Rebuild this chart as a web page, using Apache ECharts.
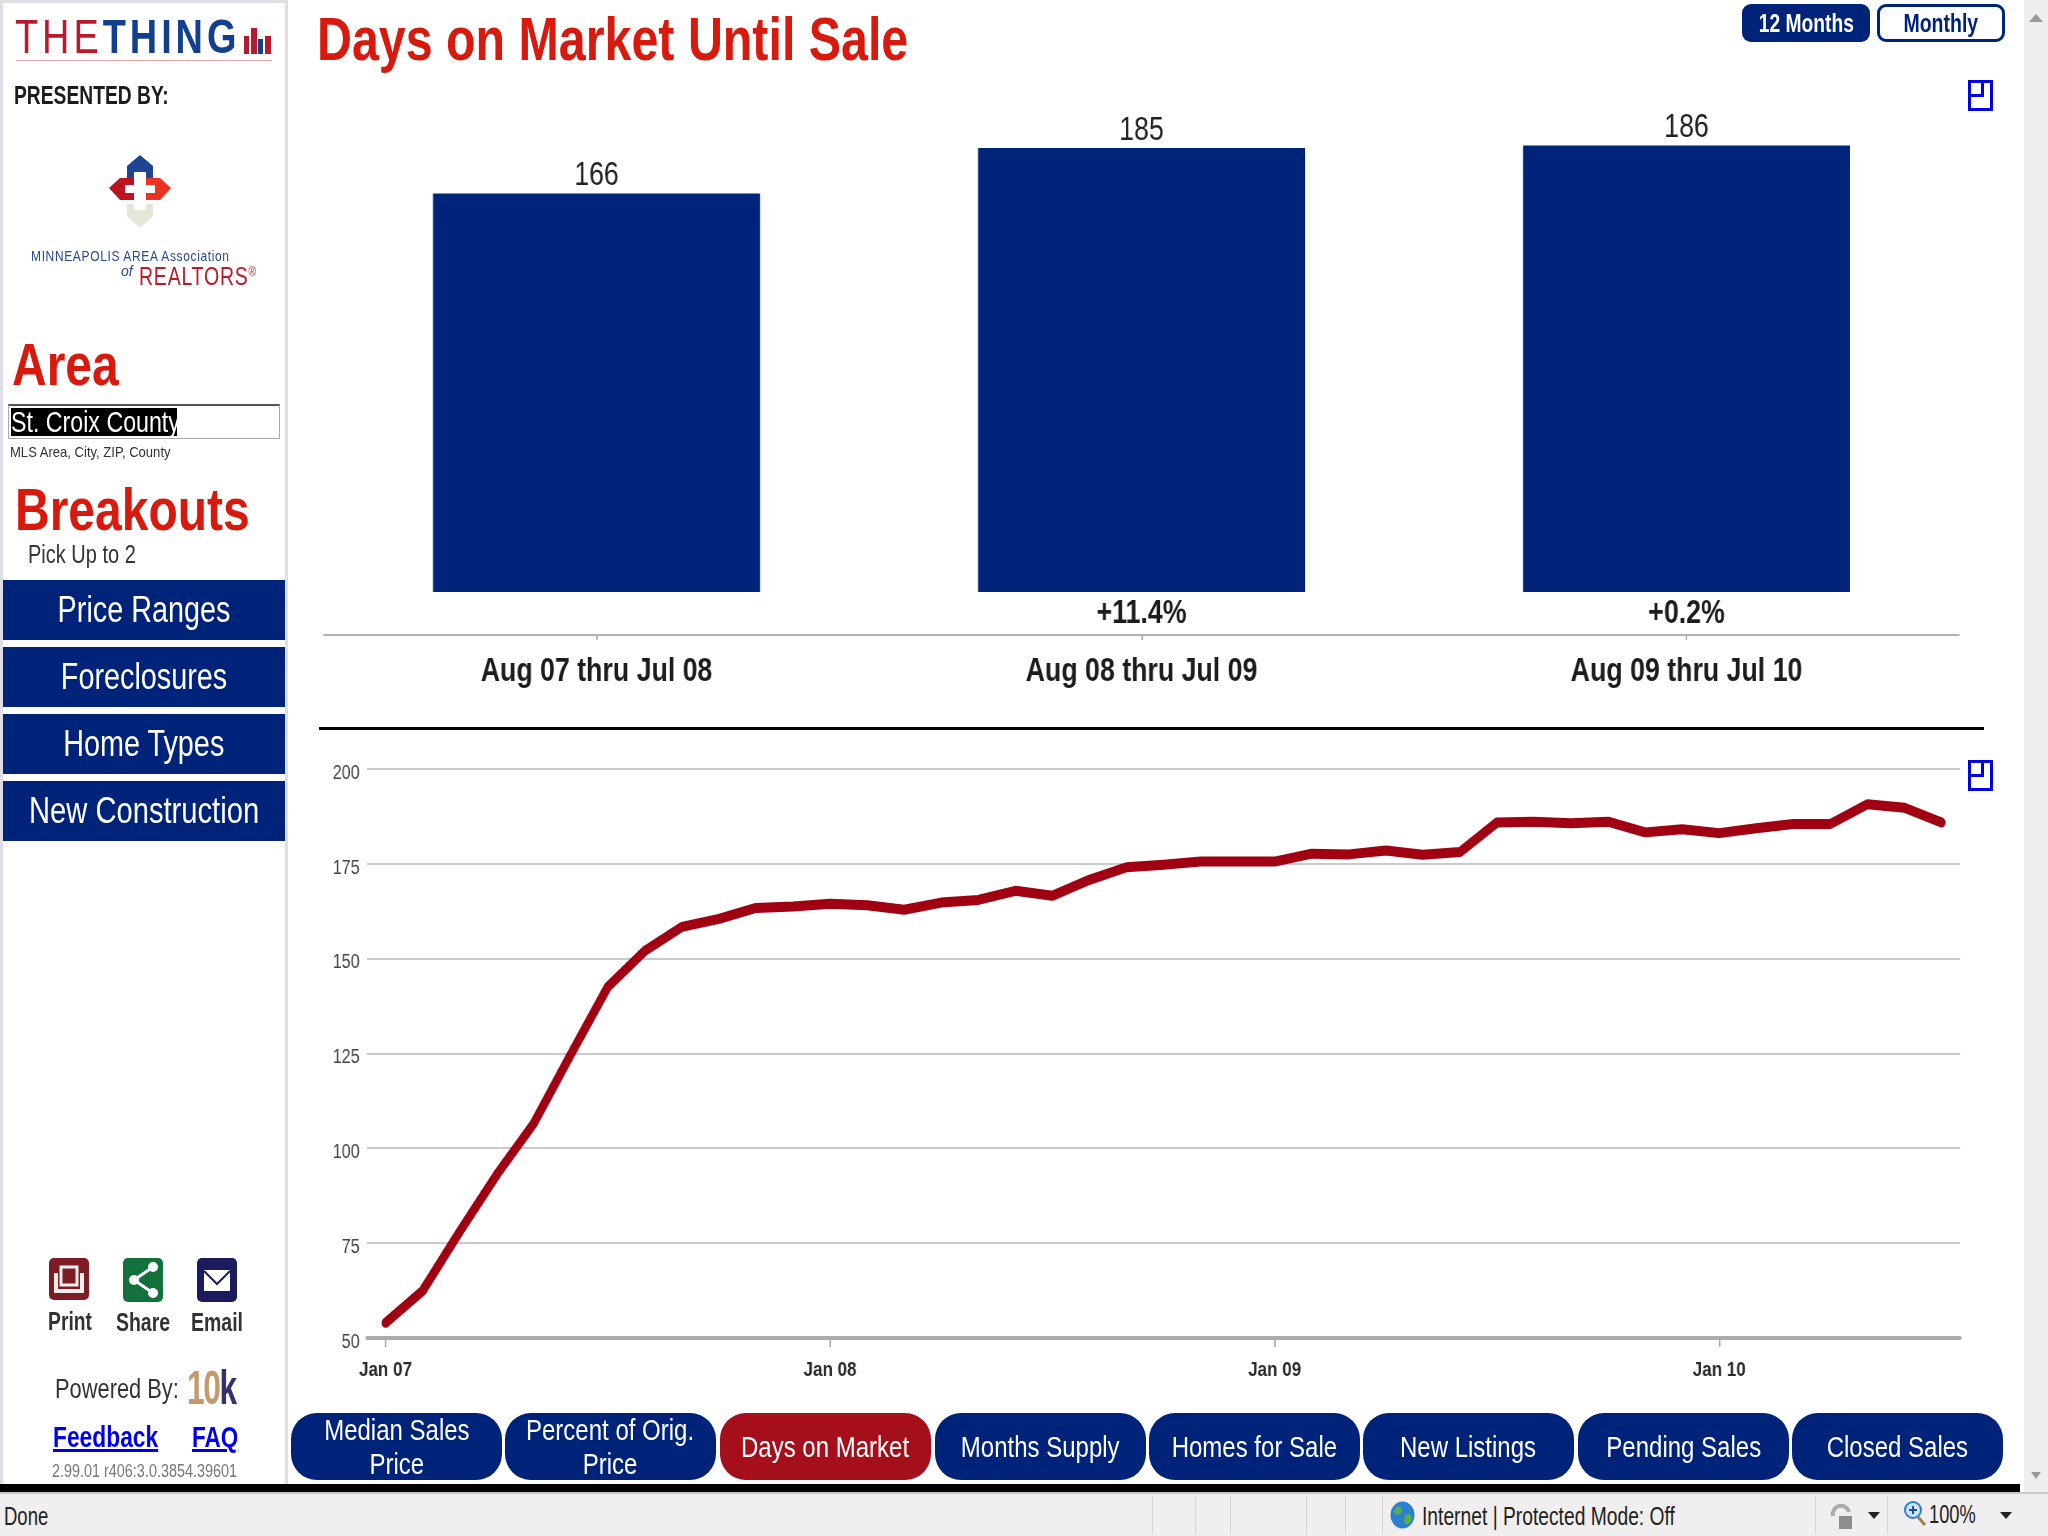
<!DOCTYPE html>
<html>
<head>
<meta charset="utf-8">
<title>Days on Market Until Sale</title>
<script src="https://cdn.jsdelivr.net/npm/echarts@6/dist/echarts.min.js"></script>
<style>
html,body{margin:0;padding:0;background:#fff;}
body{width:2048px;height:1536px;position:relative;overflow:hidden;font-family:"Liberation Sans",Arial,sans-serif;color:#222;}
#main{position:absolute;left:0;top:0;height:1536px;transform-origin:left top;}
.a{position:absolute;white-space:nowrap;}
.n{display:inline-block;white-space:nowrap;transform:scaleX(var(--s));transform-origin:left center;}
.c{transform-origin:center center;}
.side{position:absolute;left:3px;width:282px;height:60px;background:#00237a;color:#fff;font-size:36px;display:flex;align-items:center;justify-content:center;}
.tab{position:absolute;top:1413px;height:67px;width:211px;border-radius:26px;background:#00237a;color:#fff;font-size:30px;line-height:34px;text-align:center;display:flex;align-items:center;justify-content:center;}
.h{color:#d8190e;font-weight:bold;font-size:60px;}
.sep{position:absolute;top:1496px;height:38px;width:1px;background:#d4d2d2;}
.expand{position:absolute;width:19px;height:25px;border:3px solid #0000e6;}
.expand i{position:absolute;right:6px;top:0;width:10px;height:11px;border:solid #0000e6;border-width:0 3px 3px 3px;}
</style>
</head>
<body>
<div id="main"></div>

<!-- sidebar -->
<div class="a" style="left:0;top:0;width:3px;height:1484px;background:#dedee4"></div>
<div class="a" style="left:0;top:0;width:288px;height:3px;background:#dedee4"></div>
<div class="a" style="left:285px;top:0;width:3px;height:1484px;background:#dedee4"></div>
<div class="a n" style="--s:.79;left:15px;top:9px;font-size:48px;letter-spacing:5px;color:#b8192d;">THE<b style="color:#12408f">THING</b></div>
<div class="a" style="left:244px;top:36px;width:5px;height:18px;background:#b8192d"></div>
<div class="a" style="left:251px;top:28px;width:6px;height:26px;background:#b8192d"></div>
<div class="a" style="left:258px;top:39px;width:5px;height:15px;background:#12408f"></div>
<div class="a" style="left:265px;top:36px;width:6px;height:18px;background:#b8192d"></div>
<div class="a" style="left:16px;top:60px;width:256px;height:1px;background:#e9a6ad"></div>
<div class="a n" style="--s:.77;left:14px;top:81px;font-size:25px;font-weight:bold;color:#1c1c1c;">PRESENTED BY:</div>
<svg class="a" style="left:105px;top:150px" width="70" height="84" viewBox="0 0 70 84">
  <path d="M22 31V16L35 5L48 16V31H41V22H29V31Z" fill="#1d4594"/>
  <path d="M4 38L15 28H29V35H20V43H29V50H15Z" fill="#bd1421"/>
  <path d="M66 38L55 28H41V35H50V43H41V50H55Z" fill="#ec3323"/>
  <path d="M22 54V66L35 78L48 66V54H41V60H29V54Z" fill="#e6e6da"/>
</svg>
<div class="a n" style="--s:.8;left:31px;top:247px;font-size:15px;letter-spacing:.8px;color:#29488f;">MINNEAPOLIS AREA Association</div>
<div class="a" style="left:121px;top:263px;font-size:14px;font-style:italic;color:#29488f;">of</div>
<div class="a n" style="--s:.78;left:139px;top:262px;font-size:25px;letter-spacing:1px;color:#bb1b2b;">REALTORS<span style="font-size:13px;vertical-align:9px">®</span></div>
<div class="a h n" style="--s:.8;left:12px;top:330px;">Area</div>
<div class="a" style="left:8px;top:404px;width:270px;height:32px;border:1px solid #aaa;border-top:2px solid #555;"></div>
<div class="a" style="left:11px;top:408px;height:28px;width:166px;background:#000;color:#fff;font-size:29px;line-height:28px;"><span class="n" style="--s:.8">St. Croix County</span></div>
<div class="a n" style="--s:.87;left:10px;top:443px;font-size:15px;color:#333;">MLS Area, City, ZIP, County</div>
<div class="a h n" style="--s:.8;left:15px;top:475px;">Breakouts</div>
<div class="a n" style="--s:.8;left:28px;top:540px;font-size:25px;color:#333;">Pick Up to 2</div>
<div class="side" style="top:580px"><span class="n c" style="--s:.8">Price Ranges</span></div>
<div class="side" style="top:647px"><span class="n c" style="--s:.8">Foreclosures</span></div>
<div class="side" style="top:714px"><span class="n c" style="--s:.8">Home Types</span></div>
<div class="side" style="top:781px"><span class="n c" style="--s:.81">New Construction</span></div>

<svg class="a" style="left:49px;top:1258px" width="40" height="42"><rect width="40" height="42" rx="5" fill="#7d1c24"/><path d="M7 15V33H33V15" fill="none" stroke="#eee" stroke-width="4"/><rect x="12" y="9" width="16" height="18" fill="none" stroke="#eee" stroke-width="3"/></svg>
<svg class="a" style="left:123px;top:1258px" width="40" height="44"><rect width="40" height="44" rx="5" fill="#13713b"/><path d="M30 9L11 22L30 35" fill="none" stroke="#fff" stroke-width="3"/><circle cx="30" cy="9" r="5" fill="#fff"/><circle cx="11" cy="22" r="5" fill="#fff"/><circle cx="30" cy="35" r="5" fill="#fff"/></svg>
<svg class="a" style="left:197px;top:1258px" width="40" height="44"><rect width="40" height="44" rx="5" fill="#1b1b5e"/><rect x="7" y="12" width="26" height="21" fill="#fff"/><path d="M7 13L20 26L33 13" fill="none" stroke="#1b1b5e" stroke-width="2"/></svg>
<div class="a n c" style="--s:.74;left:30px;width:80px;text-align:center;top:1306px;font-size:26px;font-weight:bold;color:#333;">Print</div>
<div class="a n c" style="--s:.75;left:103px;width:80px;text-align:center;top:1307px;font-size:26px;font-weight:bold;color:#333;">Share</div>
<div class="a n c" style="--s:.75;left:177px;width:80px;text-align:center;top:1307px;font-size:26px;font-weight:bold;color:#333;">Email</div>
<div class="a n" style="--s:.78;left:55px;top:1373px;font-size:28px;color:#333;">Powered By:</div>
<div class="a n" style="--s:.66;left:187px;top:1360px;font-size:48px;font-weight:bold;letter-spacing:-2px;color:#c49a6c;">10<span style="color:#3a2f6e">k</span></div>
<div class="a n" style="--s:.76;left:53px;top:1420px;font-size:30px;font-weight:bold;color:#0000ee;text-decoration:underline;">Feedback</div>
<div class="a n" style="--s:.75;left:192px;top:1420px;font-size:30px;font-weight:bold;color:#0000ee;text-decoration:underline;">FAQ</div>
<div class="a n" style="--s:.8;left:52px;top:1461px;font-size:18px;color:#777;">2.99.01 r406:3.0.3854.39601</div>

<!-- header -->
<div class="a n" style="--s:.78;left:317px;top:3px;font-size:62px;font-weight:bold;color:#d8190e;">Days on Market Until Sale</div>
<div class="a" style="left:1742px;top:4px;width:128px;height:38px;border-radius:9px;background:#00237a;color:#fff;font-size:26px;font-weight:bold;line-height:38px;text-align:center;"><span class="n c" style="--s:.74">12 Months</span></div>
<div class="a" style="left:1877px;top:4px;width:122px;height:32px;border:3px solid #00237a;border-radius:9px;background:#fff;color:#00237a;font-size:26px;font-weight:bold;line-height:32px;text-align:center;"><span class="n c" style="--s:.75">Monthly</span></div>
<div class="expand" style="left:1968px;top:80px"><i></i></div>
<div class="expand" style="left:1968px;top:760px"><i></i></div>
<div class="a" style="left:319px;top:727px;width:1665px;height:3px;background:#000"></div>

<!-- tabs -->
<div class="tab" style="left:291px"><span class="n c" style="--s:.8">Median Sales<br>Price</span></div>
<div class="tab" style="left:505px"><span class="n c" style="--s:.8">Percent of Orig.<br>Price</span></div>
<div class="tab" style="left:720px;background:#a50f1c"><span class="n c" style="--s:.8">Days on Market</span></div>
<div class="tab" style="left:935px"><span class="n c" style="--s:.8">Months Supply</span></div>
<div class="tab" style="left:1149px"><span class="n c" style="--s:.8">Homes for Sale</span></div>
<div class="tab" style="left:1363px"><span class="n c" style="--s:.8">New Listings</span></div>
<div class="tab" style="left:1578px"><span class="n c" style="--s:.8">Pending Sales</span></div>
<div class="tab" style="left:1792px"><span class="n c" style="--s:.8">Closed Sales</span></div>

<!-- browser chrome -->
<div class="a" style="left:2024px;top:0;width:24px;height:1494px;background:#eeeeee"></div>
<div class="a" style="left:2029px;top:14px;width:0;height:0;border:7px solid transparent;border-bottom:8px solid #9a9a9a;border-top:0"></div>
<div class="a" style="left:2031px;top:1472px;width:0;height:0;border:5px solid transparent;border-top:7px solid #9a9a9a;border-bottom:0"></div>
<div class="a" style="left:0;top:1484px;width:2020px;height:8px;background:#000"></div>
<div class="a" style="left:0;top:1492px;width:2048px;height:44px;background:#f0eeee;border-top:2px solid #c8c8c8;box-sizing:border-box"></div>
<div class="a n" style="--s:.74;left:4px;top:1502px;font-size:25px;color:#222;">Done</div>
<div class="sep" style="left:1152px"></div><div class="sep" style="left:1195px"></div><div class="sep" style="left:1230px"></div><div class="sep" style="left:1306px"></div><div class="sep" style="left:1345px"></div><div class="sep" style="left:1382px"></div><div class="sep" style="left:1815px"></div><div class="sep" style="left:1887px"></div>
<svg class="a" style="left:1390px;top:1501px" width="25" height="28"><ellipse cx="12.5" cy="14" rx="12" ry="13.5" fill="#2f7fd0"/><path d="M6 6C12 4 13 9 11 12C9 15 5 14 4 11ZM15 14C20 12 22 15 21 20C19 25 15 24 14 20Z" fill="#56b04a"/></svg>
<div class="a n" style="--s:.77;left:1422px;top:1502px;font-size:25px;color:#222;">Internet | Protected Mode: Off</div>
<svg class="a" style="left:1828px;top:1502px" width="28" height="28"><path d="M5 14A8 8 0 0 1 21 10" fill="none" stroke="#aaa" stroke-width="4"/><rect x="11" y="14" width="13" height="13" fill="#8d8d8d"/></svg>
<div class="a" style="left:1868px;top:1512px;width:0;height:0;border:6px solid transparent;border-top:7px solid #222;border-bottom:0"></div>
<svg class="a" style="left:1904px;top:1500px" width="24" height="28"><circle cx="9" cy="10" r="8" fill="#cfe3f6" stroke="#2f7fd0" stroke-width="2"/><path d="M5 10H13M9 6V14" stroke="#1b4fa0" stroke-width="2"/><path d="M14 17L21 25" stroke="#a37f4c" stroke-width="3"/></svg>
<div class="a n" style="--s:.73;left:1929px;top:1500px;font-size:25px;color:#222;">100%</div>
<div class="a" style="left:2000px;top:1512px;width:0;height:0;border:6px solid transparent;border-top:7px solid #222;border-bottom:0"></div>

<script>
var periods = ['Aug 07 thru Jul 08', 'Aug 08 thru Jul 09', 'Aug 09 thru Jul 10'];
var days12 = [166, 185, 186];
var change = ['', '+11.4%', '+0.2%'];

var months = [
    'Jan 07','Feb 07','Mar 07','Apr 07','May 07','Jun 07','Jul 07','Aug 07','Sep 07','Oct 07','Nov 07','Dec 07',
    'Jan 08','Feb 08','Mar 08','Apr 08','May 08','Jun 08','Jul 08','Aug 08','Sep 08','Oct 08','Nov 08','Dec 08',
    'Jan 09','Feb 09','Mar 09','Apr 09','May 09','Jun 09','Jul 09','Aug 09','Sep 09','Oct 09','Nov 09','Dec 09',
    'Jan 10','Feb 10','Mar 10','Apr 10','May 10','Jun 10','Jul 10'
];
var daysRolling = [
    54, 62.4, 78, 93, 106.5, 124.7, 142.5, 152, 158.3, 160.4, 163.3, 163.7,
    164.4, 164, 162.8, 164.7, 165.4, 167.8, 166.5, 170.7, 174, 174.7, 175.5, 175.5,
    175.5, 177.6, 177.4, 178.4, 177.3, 178, 185.8, 186, 185.6, 186, 183.2, 184,
    183, 184.3, 185.4, 185.4, 190.6, 189.7, 185.8
];

// the source is a stretched screenshot, so the text is narrow: draw the chart wider and squeeze it back
var sx = 0.81;
var main = document.getElementById('main');
main.style.width = (2048 / sx) + 'px';
main.style.transform = 'scaleX(' + sx + ')';

var myChart = echarts.init(main);
myChart.setOption({
    animation: false,
    grid: [
        {left: 324 / sx, width: 1635 / sx, top: 112, height: 480},
        {left: 367 / sx, width: 1593 / sx, top: 768.6, height: 569.4}
    ],
    xAxis: [
        {
            type: 'category',
            gridIndex: 0,
            data: periods,
            offset: 43,
            axisLine: {onZero: false, lineStyle: {color: '#b0b0b0', width: 2}},
            axisTick: {show: true, alignWithLabel: true, length: 5, lineStyle: {color: '#b0b0b0', width: 2}},
            axisLabel: {fontFamily: 'Liberation Sans', fontSize: 33, fontWeight: 'bold', color: '#1c1c1c', margin: 20}
        },
        {
            type: 'category',
            gridIndex: 1,
            data: months,
            axisLine: {lineStyle: {color: '#ababab', width: 4}},
            axisTick: {show: true, alignWithLabel: true, interval: 11, length: 9, lineStyle: {color: '#ababab', width: 2}},
            axisLabel: {interval: 11, fontFamily: 'Liberation Sans', fontSize: 21, fontWeight: 'bold', color: '#2a2a2a', margin: 22}
        }
    ],
    yAxis: [
        {type: 'value', gridIndex: 0, min: 0, max: 200, show: false},
        {
            type: 'value',
            gridIndex: 1,
            min: 50,
            max: 200,
            interval: 25,
            axisLine: {show: false},
            axisTick: {show: false},
            axisLabel: {fontFamily: 'Liberation Sans', fontSize: 20, color: '#444', margin: 9, verticalAlign: 'top', lineHeight: 9},
            splitLine: {lineStyle: {color: '#c9c9cd', width: 2}}
        }
    ],
    series: [
        {
            type: 'bar',
            xAxisIndex: 0,
            yAxisIndex: 0,
            data: days12,
            barWidth: 327 / sx,
            barGap: '-100%',
            itemStyle: {color: '#00237a'},
            label: {show: true, position: 'top', distance: 1, fontFamily: 'Liberation Sans', fontSize: 33, color: '#222'}
        },
        {
            type: 'bar',
            xAxisIndex: 0,
            yAxisIndex: 0,
            data: days12,
            barWidth: 327 / sx,
            barGap: '-100%',
            itemStyle: {color: 'transparent'},
            label: {
                show: true,
                position: 'bottom',
                distance: 5,
                fontFamily: 'Liberation Sans',
                fontSize: 33,
                fontWeight: 'bold',
                color: '#1c1c1c',
                formatter: function (p) { return change[p.dataIndex]; }
            }
        },
        {
            type: 'line',
            xAxisIndex: 1,
            yAxisIndex: 1,
            data: daysRolling,
            symbol: 'none',
            lineStyle: {color: '#a00012', width: 10, cap: 'round', join: 'round'}
        }
    ]
});
</script>
</body>
</html>
